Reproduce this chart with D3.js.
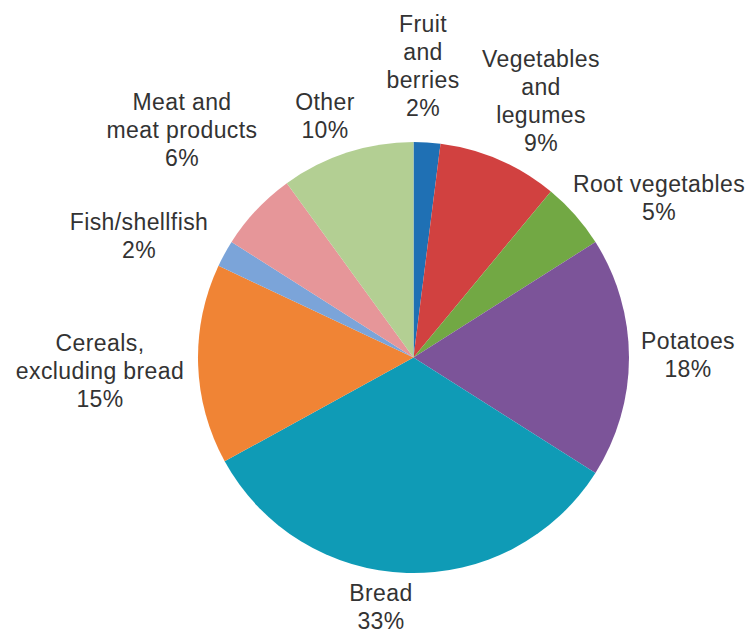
<!DOCTYPE html>
<html>
<head>
<meta charset="utf-8">
<script src="https://cdn.jsdelivr.net/npm/d3@7"></script>
<style>
  html, body { margin: 0; padding: 0; background: #fff; }
  svg { display: block; }
  .lbl { font-family: "Liberation Sans", Arial, Helvetica, sans-serif; font-size: 23px; fill: #333; letter-spacing: 0.4px; }
</style>
</head>
<body>
<svg id="chart" width="750" height="633"></svg>
<script>
// Food categories, clockwise from 12 o'clock
const categories = [
  "Fruit and berries", "Vegetables and legumes", "Root vegetables", "Potatoes",
  "Bread", "Cereals, excluding bread", "Fish/shellfish", "Meat and meat products", "Other"
];
// Share of each category (%)
const shares = [2, 9, 5, 18, 33, 15, 2, 6, 10];
// Label text split into lines (percentage appended below)
const labelLines = [
  ["Fruit", "and", "berries"],
  ["Vegetables", "and", "legumes"],
  ["Root vegetables"],
  ["Potatoes"],
  ["Bread"],
  ["Cereals,", "excluding bread"],
  ["Fish/shellfish"],
  ["Meat and", "meat products"],
  ["Other"]
];

// Layout: slice colours and label anchors (centre x, first baseline y)
const colors = ["#1f70b4", "#d14140", "#72a844", "#7c5499", "#0f9bb6", "#f08435", "#7ba4d9", "#e69699", "#b3cf93"];
const labelAnchors = [
  [423, 32], [541, 67], [659, 192], [688, 349], [381, 601],
  [100, 351], [139, 230], [182, 110], [325, 110]
];
const lineHeight = 28;
const cx = 413.5, cy = 357.5, radius = 215.5;

const data = categories.map((c, i) => ({ name: c, value: shares[i], idx: i }));

const svg = d3.select("#chart");
const g = svg.append("g").attr("transform", `translate(${cx},${cy})`);

const pie = d3.pie().sort(null).value(d => d.value);
const arc = d3.arc().innerRadius(0).outerRadius(radius);

g.selectAll("path.slice")
  .data(pie(data))
  .join("path")
  .attr("class", "slice")
  .attr("d", arc)
  .attr("fill", d => colors[d.data.idx]);

const labels = svg.append("g")
  .selectAll("text")
  .data(data)
  .join("text")
  .attr("class", "lbl")
  .attr("text-anchor", "middle")
  .attr("x", d => labelAnchors[d.idx][0])
  .attr("y", d => labelAnchors[d.idx][1]);

labels.each(function(d) {
  const t = d3.select(this);
  const lines = labelLines[d.idx].concat([d.value + "%"]);
  lines.forEach((ln, k) => {
    t.append("tspan")
      .attr("x", labelAnchors[d.idx][0])
      .attr("dy", k === 0 ? 0 : lineHeight)
      .text(ln);
  });
});
</script>
</body>
</html>
